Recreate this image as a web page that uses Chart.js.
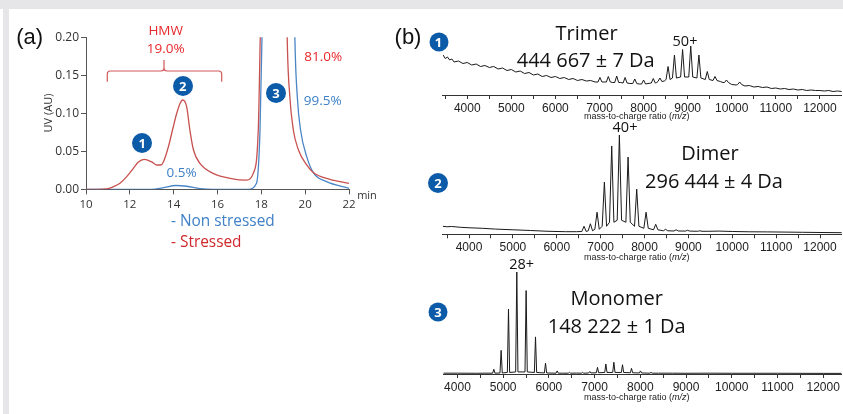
<!DOCTYPE html>
<html lang="en">
<head>
<meta charset="UTF-8">
<title>SEC-MS of stressed antibody</title>
<script src="https://cdn.jsdelivr.net/npm/chart.js"></script>
<style>
  body { margin: 0; background: #fff; }
  #fig { position: relative; width: 843px; height: 414px; background: #fff; overflow: hidden; }
  .band { position: absolute; background: #e6e6e8; }
  canvas { position: absolute; }
  .t { position: absolute; transform: translate(-50%, -50%); white-space: nowrap; font-family: 'Open Sans', sans-serif; line-height: 1; }
  .ar { font-family: 'Liberation Sans', Arial, sans-serif; }
  .red { color: #e8282c; }
  .blue { color: #3f80c6; }
  .num { position: absolute; transform: translate(-50%, -50%); border-radius: 50%; background: #0b5ba8; color: #fff;
         font: bold 13px 'Open Sans', sans-serif; text-align: center; }
  .mz { position: absolute; transform: translate(-50%, -50%); font: 9px 'Liberation Sans', Arial, sans-serif; color: #222; white-space: nowrap; }
</style>
</head>
<body>
<div id="fig">
  <div class="band" style="left:0;top:0;width:843px;height:9px"></div>
  <div class="band" style="left:3px;top:0;width:6px;height:414px"></div>

  <canvas id="sec" width="362" height="215" style="left:0;top:0"></canvas>
  <canvas id="ms1" width="413" height="87" style="left:430px;top:30px"></canvas>
  <canvas id="ms2" width="413" height="140" style="left:430px;top:120px"></canvas>
  <canvas id="ms3" width="413" height="145" style="left:430px;top:255px"></canvas>

  <!-- panel (a) labels -->
  <div class="t ar" style="left:29.7px;top:37px;font-size:22px;color:#111">(a)</div>
  <div class="t" style="left:46.7px;top:113px;font-size:11px;color:#333;transform:translate(-50%,-50%) rotate(-90deg)">UV (AU)</div>
  <div class="t red" style="left:165.7px;top:31px;font-size:13.5px">HMW</div>
  <div class="t red" style="left:165.7px;top:49.3px;font-size:13.5px">19.0%</div>
  <svg style="position:absolute;left:0;top:0" width="380" height="100">
    <path d="M107.3 81.7 V74 Q107.3 71 110.3 71 H161 Q164 71 164 68 V60 M164 68 Q164 71 167 71 H218.7 Q221.7 71 221.7 74 V81.7"
          fill="none" stroke="#d2585a" stroke-width="1.2"/>
  </svg>
  <div class="t red" style="left:323.3px;top:57.3px;font-size:13.5px">81.0%</div>
  <div class="t blue" style="left:322.7px;top:101px;font-size:13.5px">99.5%</div>
  <div class="t blue" style="left:181.7px;top:173.3px;font-size:13.5px">0.5%</div>
  <div class="num" style="left:142.3px;top:143.3px;width:20px;height:20px;line-height:20px">1</div>
  <div class="num" style="left:182.7px;top:85.7px;width:20px;height:20px;line-height:20px">2</div>
  <div class="num" style="left:276px;top:92.7px;width:20px;height:20px;line-height:20px">3</div>
  <div class="t" style="left:367px;top:194px;font-size:11px;color:#333">min</div>
  <div class="t blue" style="left:171px;top:221px;font-size:15.4px;transform:translate(0,-50%)">- Non stressed</div>
  <div class="t red" style="left:171px;top:241.7px;font-size:15.4px;transform:translate(0,-50%);color:#d0282c">- Stressed</div>

  <!-- panel (b) labels -->
  <div class="t ar" style="left:408px;top:37px;font-size:22px;color:#111">(b)</div>
  <div class="num" style="left:438.5px;top:42px;width:19px;height:19px;line-height:19px">1</div>
  <div class="num" style="left:438px;top:182.7px;width:20px;height:20px;line-height:20px">2</div>
  <div class="num" style="left:438px;top:311.8px;width:19px;height:19px;line-height:19px">3</div>

  <div class="t" style="left:586.7px;top:32.7px;font-size:20px;color:#111">Trimer</div>
  <div class="t" style="left:585.7px;top:60px;font-size:20px;color:#111">444 667 ± 7 Da</div>
  <div class="t" style="left:685px;top:40.7px;font-size:14.5px;color:#111">50+</div>
  <div class="mz" style="left:636.7px;top:116px">mass-to-charge ratio (<i>m/z</i>)</div>

  <div class="t" style="left:625px;top:126.7px;font-size:14.5px;color:#111">40+</div>
  <div class="t" style="left:710px;top:153.3px;font-size:20px;color:#111">Dimer</div>
  <div class="t" style="left:714px;top:181px;font-size:20px;color:#111">296 444 ± 4 Da</div>
  <div class="mz" style="left:636.7px;top:256.7px">mass-to-charge ratio (<i>m/z</i>)</div>

  <div class="t" style="left:521.7px;top:264px;font-size:14.5px;color:#111">28+</div>
  <div class="t" style="left:616.7px;top:298.3px;font-size:20px;color:#111">Monomer</div>
  <div class="t" style="left:616.7px;top:326px;font-size:20px;color:#111">148 222 ± 1 Da</div>
  <div class="mz" style="left:636.7px;top:396.7px">mass-to-charge ratio (<i>m/z</i>)</div>
</div>

<script>
// (a) SEC-UV traces, retention time (min) vs UV (AU)
const stressedTime = [10, 10.5, 10.94, 11.25, 11.55, 11.86, 12.16, 12.39, 12.65, 13.0, 13.22, 13.42, 13.53, 13.76, 13.98, 14.14, 14.29, 14.41, 14.59, 14.74, 14.9, 15.2, 15.8, 16.57, 17.33, 17.63, 17.86, 17.95, 18.2, 18.6, 19.0, 19.18, 19.3, 19.46, 19.69, 20.07, 20.37, 21.13, 22];
const stressedUV   = [0, 0, 0.0004, 0.0034, 0.0079, 0.0166, 0.0276, 0.036, 0.0395, 0.036, 0.032, 0.032, 0.036, 0.056, 0.082, 0.100, 0.113, 0.1175, 0.109, 0.078, 0.052, 0.034, 0.021, 0.0145, 0.012, 0.021, 0.078, 0.2, 0.6, 0.9, 0.6, 0.2, 0.122, 0.078, 0.052, 0.032, 0.022, 0.013, 0.0079];
const nonStressedTime = [10, 13.0, 13.5, 14.1, 14.6, 15.2, 15.8, 17.4, 17.78, 17.94, 18.03, 18.3, 18.8, 19.3, 19.53, 19.64, 19.79, 20.07, 20.37, 20.98, 22];
const nonStressedUV   = [0, 0, 0.002, 0.005, 0.004, 0.001, 0, 0, 0.008, 0.078, 0.2, 0.7, 1.0, 0.7, 0.2, 0.122, 0.078, 0.043, 0.022, 0.010, 0.0013];
const secTicksX = [10, 12, 14, 16, 18, 20, 22];

// (b) native MS spectra, relative intensity (100 = top of each panel)
const msTicks = [3500, 4000, 4500, 5000, 5500, 6000, 6500, 7000, 7500, 8000, 8500, 9000, 9500, 10000, 10500, 11000, 11500, 12000];

const trimerBaseMz  = [3450, 3500, 3550, 3600, 3650, 3700, 3800, 3900, 4000, 4100, 4200, 4300, 4400, 4500, 4600, 4700, 4800, 4900, 5000, 5100, 5200, 5300, 5400, 5500, 5600, 5700, 5800, 5900, 6000, 6100, 6200, 6300, 6400, 6500, 6600, 6700, 6800, 6900, 7100, 7300, 7480, 7690, 7900, 8100, 8300, 8470, 9740, 9800, 10000, 10100, 10300, 10400, 10500, 10600, 10700, 10800, 10900, 11000, 11100, 11200, 11300, 11400, 11500, 11600, 11700, 11800, 11900, 12000, 12100, 12200, 12300, 12400, 12500];
const trimerBaseInt = [80, 73, 76, 70, 72, 66, 68, 63, 65, 60, 62, 57, 59, 55, 57, 52, 54, 49, 51, 46, 48, 43, 45, 40, 42, 37, 39, 35, 37, 33, 35, 31, 33, 29, 31, 28, 29, 26, 26, 25, 25, 23, 22, 23, 25, 28, 27, 25, 21, 20, 18, 19, 16, 17, 15, 16, 13, 14, 12, 13, 11, 12, 10, 11, 9, 10, 9, 9, 8, 9, 7, 8, 7];
const trimerPeakMz   = [7010, 7200, 7390, 7580, 7800, 8000, 8220, 8370, 8555, 8700, 8885, 9070, 9255, 9445, 9620, 9880, 10180];
const trimerPeakInt  = [35, 37, 38, 35, 32, 30, 33, 34, 57, 80, 91, 98, 80, 47, 37, 30, 26];
const trimerPeakFoot = [26, 26, 25, 24, 23, 22, 24, 27, 31, 34, 36, 36, 34, 31, 29, 25, 21];

const dimerBaseMz  = [3400, 3500, 3600, 3800, 4000, 4300, 4600, 5000, 5400, 5800, 6200, 6450, 9450, 9700, 10000, 10400, 10800, 11200, 11600, 12000, 12500];
const dimerBaseInt = [8, 7.5, 7.8, 7, 6.5, 6, 5.2, 4.5, 3.8, 3, 2.6, 2.6, 3, 3.2, 2.8, 2.5, 2.4, 2.2, 2, 1.8, 1.6];
const dimerPeakMz   = [6621, 6766, 6918, 7085, 7252, 7427, 7625, 7822, 8035, 8255, 8480, 8720, 8980, 9260];
const dimerPeakInt  = [8, 10.5, 22, 52, 88, 99, 77, 45, 22, 10, 5, 4.5, 4, 3.5];
const dimerPeakFoot = [2.8, 3.5, 5, 8, 12, 14, 12, 8, 6, 4.5, 3.5, 3.3, 3.2, 3];

const monoBaseMz  = [3690, 4000, 4400, 4600, 6300, 6600, 8400, 8700, 9000, 9500, 10000, 11000, 12000, 12405];
const monoBaseInt = [0.8, 0.8, 0.7, 0.8, 0.8, 0.9, 0.8, 0.8, 0.7, 0.8, 0.7, 0.7, 0.6, 0.6];
const monoPeakMz   = [4795, 4955, 5116, 5298, 5502, 5707, 5926, 6181, 6450, 6737, 6896, 7063, 7246, 7421, 7610, 7807, 8004, 8235];
const monoPeakInt  = [4.6, 23, 63, 99, 81, 36, 10.5, 3, 1.6, 1.6, 2.4, 6.5, 9.7, 11.4, 9, 5.5, 3, 1.6];
const monoPeakFoot = [0.8, 1, 1.5, 2, 2, 1.5, 1, 0.8, 0.8, 0.8, 1, 1.2, 1.5, 1.5, 1.5, 1.2, 1, 0.8];

Chart.defaults.font.family = "'Open Sans', sans-serif";
Chart.defaults.animation = false;

const toXY = (xs, ys) => xs.map((x, i) => ({ x: x, y: ys[i] }));

new Chart(document.getElementById('sec'), {
  type: 'line',
  data: {
    datasets: [
      { label: 'Stressed', data: toXY(stressedTime, stressedUV), borderColor: '#c8504f', borderWidth: 1.3,
        pointRadius: 0, cubicInterpolationMode: 'monotone' },
      { label: 'Non stressed', data: toXY(nonStressedTime, nonStressedUV), borderColor: '#4a85c5', borderWidth: 1.3,
        pointRadius: 0, cubicInterpolationMode: 'monotone' }
    ]
  },
  options: {
    responsive: false,
    layout: { padding: { left: 40, top: 37.3, right: 13, bottom: 5.7 } },
    plugins: { legend: { display: false }, tooltip: { enabled: false } },
    scales: {
      x: {
        type: 'linear', min: 10, max: 22,
        afterBuildTicks: s => { s.ticks = secTicksX.map(v => ({ value: v })); },
        afterFit: s => { s.height = 20; },
        grid: { drawOnChartArea: false, tickLength: 5, color: '#555' },
        border: { color: '#555' },
        ticks: { padding: 4, color: '#333', font: { size: 11.5 }, maxRotation: 0 }
      },
      y: {
        min: 0, max: 0.2,
        afterFit: s => { s.width = 46; },
        grid: { drawOnChartArea: false, tickLength: 5, color: '#555' },
        border: { color: '#555' },
        ticks: { stepSize: 0.05, padding: 2, color: '#333', font: { size: 12 }, callback: v => v.toFixed(2) }
      }
    }
  }
});

function spectrum(baseMz, baseInt, peakMz, peakInt, peakFoot, w) {
  const pts = toXY(baseMz, baseInt);
  peakMz.forEach((m, i) => {
    pts.push({ x: m - w, y: peakFoot[i] }, { x: m, y: peakInt[i] }, { x: m + w, y: peakFoot[i] });
  });
  return pts.sort((a, b) => a.x - b.x);
}

function msChart(id, pts, xmin, xmax, pad) {
  new Chart(document.getElementById(id), {
    type: 'line',
    data: { datasets: [{ data: pts, borderColor: '#1a1a1a', borderWidth: 1, pointRadius: 0, tension: 0 }] },
    options: {
      responsive: false,
      layout: { padding: pad },
      plugins: { legend: { display: false }, tooltip: { enabled: false } },
      scales: {
        x: {
          type: 'linear', min: xmin, max: xmax,
          afterBuildTicks: s => { s.ticks = msTicks.filter(v => v >= xmin && v <= xmax).map(v => ({ value: v })); },
          afterFit: s => { s.height = 20; },
          grid: { drawOnChartArea: false, tickLength: 4, color: '#333' },
          border: { color: '#333' },
          ticks: { autoSkip: false, maxRotation: 0, minRotation: 0, padding: 2,
                   color: '#222', font: { family: "'Liberation Sans', Arial, sans-serif", size: 12 },
                   callback: v => (v % 1000 === 0 ? String(v) : '') }
        },
        y: { display: false, min: 0, max: 100 }
      }
    }
  });
}

msChart('ms1', spectrum(trimerBaseMz, trimerBaseInt, trimerPeakMz, trimerPeakInt, trimerPeakFoot, 45),
        3442, 12495, { left: 12.7, right: 1.3, top: 15, bottom: 2 });
msChart('ms2', spectrum(dimerBaseMz, dimerBaseInt, dimerPeakMz, dimerPeakInt, dimerPeakFoot, 50),
        3400, 12494, { left: 12.7, right: 1.3, top: 14, bottom: 5.7 });
msChart('ms3', spectrum(monoBaseMz, monoBaseInt, monoPeakMz, monoPeakInt, monoPeakFoot, 25),
        3690, 12405, { left: 13.3, right: 1.3, top: 16, bottom: 6 });
</script>
</body>
</html>
